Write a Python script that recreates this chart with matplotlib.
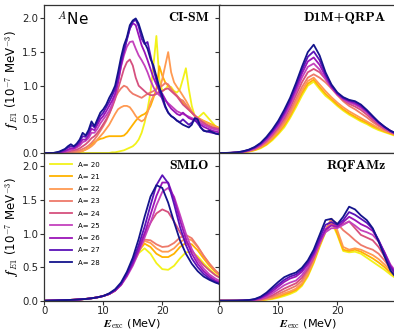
import numpy as np
import matplotlib
matplotlib.use("Agg")
import matplotlib.pyplot as plt

plt.rcParams["mathtext.fontset"] = "cm"
plt.rcParams["font.family"] = "DejaVu Sans"

# ---- data ----
mass_numbers = [20, 21, 22, 23, 24, 25, 26, 27, 28]
colors = ["#f2f21a", "#ffb300", "#ff9a52", "#ee7a6a", "#d6507e",
          "#c442bd", "#9b15b8", "#5b13b8", "#14148c"]

e_fine = np.arange(0, 30.01, 0.5)   # CI-SM grid
e_coarse = np.arange(0, 31, 1.0)    # grid for the other models

cism = {
    20: [0, 0, 0, 0, 0, 0, 0, 0, 0, 0,
         0, 0, 0, 0, 0, 0, 0, 0, 0, 0,
         0, 0, 0, 0.01, 0.01, 0.02, 0.03, 0.04, 0.06, 0.08,
         0.1, 0.14, 0.2, 0.3, 0.45, 0.65, 0.9, 1.3, 1.74, 1.1,
         0.92, 0.95, 1.0, 0.98, 0.92, 0.9, 0.95, 1.1, 1.26, 0.95,
         0.7, 0.55, 0.52, 0.56, 0.6, 0.55, 0.5, 0.45, 0.4, 0.37,
         0.35],
    21: [0, 0, 0, 0, 0, 0, 0, 0, 0, 0,
         0, 0.01, 0.02, 0.03, 0.05, 0.08, 0.12, 0.16, 0.19, 0.21,
         0.22, 0.24, 0.25, 0.25, 0.25, 0.25, 0.25, 0.26, 0.3, 0.36,
         0.42, 0.48, 0.53, 0.56, 0.58, 0.62, 0.7, 0.82, 0.95, 1.29,
         1.15, 1.05, 1.0, 0.95, 0.9, 0.85, 0.8, 0.75, 0.7, 0.65,
         0.6, 0.55, 0.52, 0.5, 0.48, 0.46, 0.44, 0.42, 0.4, 0.38,
         0.37],
    22: [0, 0, 0, 0, 0, 0, 0, 0, 0, 0,
         0.01, 0.01, 0.02, 0.03, 0.05, 0.07, 0.1, 0.14, 0.2, 0.25,
         0.3, 0.36, 0.42, 0.5, 0.58, 0.65, 0.68, 0.7, 0.7, 0.68,
         0.62, 0.55, 0.5, 0.47, 0.5, 0.6, 0.75, 0.85, 0.88, 0.92,
         1.1, 1.3, 1.5, 1.2, 1.05, 0.98, 0.92, 0.85, 0.78, 0.7,
         0.62, 0.56, 0.52, 0.5, 0.47, 0.45, 0.43, 0.41, 0.39, 0.37,
         0.36],
    23: [0, 0, 0, 0, 0, 0, 0, 0, 0.01, 0.01,
         0.02, 0.03, 0.04, 0.06, 0.08, 0.11, 0.15, 0.2, 0.26, 0.33,
         0.4, 0.48, 0.58, 0.7, 0.82, 0.9, 0.96, 1.0, 0.98, 0.92,
         0.88, 0.86, 0.84, 0.82, 0.85, 0.88, 0.9, 0.92, 0.95, 0.98,
         1.0, 1.04, 1.02, 0.95, 0.9, 0.85, 0.8, 0.78, 0.72, 0.66,
         0.6, 0.55, 0.52, 0.48, 0.45, 0.42, 0.4, 0.38, 0.36, 0.35,
         0.34],
    24: [0, 0, 0, 0, 0, 0, 0, 0.01, 0.02, 0.03,
         0.04, 0.05, 0.07, 0.1, 0.13, 0.17, 0.22, 0.25, 0.3, 0.36,
         0.43, 0.5, 0.58, 0.68, 0.8, 0.95, 1.1, 1.25, 1.35, 1.39,
         1.3, 1.12, 1.0, 0.96, 0.92, 0.88, 0.86, 0.86, 0.88, 0.9,
         0.92, 0.95, 0.96, 0.92, 0.88, 0.84, 0.78, 0.72, 0.68, 0.64,
         0.6, 0.56, 0.52, 0.48, 0.45, 0.42, 0.4, 0.38, 0.37, 0.36,
         0.35],
    25: [0, 0, 0, 0, 0, 0, 0.01, 0.02, 0.03, 0.05,
         0.06, 0.08, 0.11, 0.16, 0.18, 0.22, 0.3, 0.3, 0.36, 0.44,
         0.5, 0.56, 0.63, 0.72, 0.85, 1.05, 1.28, 1.45, 1.58, 1.65,
         1.66, 1.55, 1.45, 1.38, 1.3, 1.2, 1.08, 0.98, 0.9, 0.86,
         0.82, 0.78, 0.74, 0.7, 0.66, 0.62, 0.6, 0.58, 0.56, 0.54,
         0.52, 0.5, 0.48, 0.45, 0.42, 0.4, 0.38, 0.36, 0.35, 0.34,
         0.34],
    26: [0, 0, 0, 0, 0, 0.005, 0.015, 0.03, 0.05, 0.07,
         0.07, 0.1, 0.14, 0.2, 0.2, 0.26, 0.36, 0.34, 0.42, 0.5,
         0.55, 0.62, 0.7, 0.78, 0.88, 1.05, 1.3, 1.5, 1.7, 1.85,
         1.93, 1.9, 1.75, 1.6, 1.5, 1.38, 1.25, 1.12, 1.02, 0.95,
         0.88, 0.8, 0.72, 0.66, 0.62, 0.58, 0.56, 0.6, 0.56, 0.52,
         0.5, 0.48, 0.46, 0.42, 0.39, 0.37, 0.35, 0.33, 0.32, 0.31,
         0.3],
    27: [0, 0, 0, 0, 0.005, 0.01, 0.03, 0.05, 0.08, 0.1,
         0.09, 0.12, 0.17, 0.25, 0.24, 0.3, 0.42, 0.38, 0.46, 0.55,
         0.6, 0.68, 0.76, 0.85, 0.95, 1.12, 1.35, 1.52, 1.68, 1.85,
         1.95, 1.98, 1.88, 1.7, 1.62, 1.65, 1.45, 1.25, 1.08, 0.92,
         0.8, 0.68, 0.6, 0.55, 0.52, 0.48, 0.46, 0.5, 0.46, 0.42,
         0.45, 0.5, 0.44, 0.38, 0.34, 0.32, 0.31, 0.3, 0.29, 0.28,
         0.28],
    28: [0, 0, 0, 0, 0.01, 0.02, 0.04, 0.06, 0.1, 0.13,
         0.1, 0.14, 0.2, 0.3, 0.26, 0.34, 0.47, 0.4, 0.5, 0.6,
         0.65, 0.72, 0.82, 0.9, 1.0, 1.2, 1.42, 1.6, 1.72, 1.9,
         1.97, 2.0, 1.92, 1.78, 1.64, 1.55, 1.4, 1.3, 1.14, 0.98,
         0.85, 0.7, 0.6, 0.55, 0.52, 0.48, 0.45, 0.42, 0.4, 0.38,
         0.42, 0.52, 0.5, 0.38, 0.33, 0.32, 0.33, 0.31, 0.29, 0.28,
         0.27],
}

d1m_qrpa = {
    20: [0, 0, 0.001, 0.003, 0.01, 0.02, 0.04, 0.07, 0.12, 0.19, 0.28,
         0.38, 0.52, 0.68, 0.85, 1.0, 1.06, 0.95, 0.85, 0.78, 0.7,
         0.63, 0.57, 0.52, 0.47, 0.43, 0.38, 0.34, 0.31, 0.28, 0.25],
    21: [0, 0, 0.001, 0.004, 0.012, 0.024, 0.045, 0.08, 0.13, 0.21, 0.3,
         0.41, 0.55, 0.72, 0.89, 1.03, 1.09, 0.98, 0.88, 0.8, 0.72,
         0.65, 0.59, 0.54, 0.49, 0.45, 0.4, 0.36, 0.32, 0.29, 0.26],
    22: [0, 0, 0.002, 0.005, 0.014, 0.028, 0.05, 0.09, 0.145, 0.23, 0.32,
         0.44, 0.58, 0.75, 0.93, 1.07, 1.12, 1.02, 0.92, 0.83, 0.75,
         0.68, 0.62, 0.57, 0.52, 0.47, 0.42, 0.37, 0.33, 0.3, 0.27],
    23: [0, 0, 0.002, 0.005, 0.015, 0.03, 0.055, 0.1, 0.16, 0.25, 0.35,
         0.47, 0.62, 0.8, 0.98, 1.12, 1.17, 1.12, 1.05, 0.96, 0.86,
         0.77, 0.7, 0.65, 0.59, 0.53, 0.46, 0.4, 0.35, 0.31, 0.27],
    24: [0, 0, 0.002, 0.006, 0.017, 0.034, 0.06, 0.11, 0.18, 0.27, 0.38,
         0.51, 0.67, 0.86, 1.05, 1.2, 1.25, 1.2, 1.1, 0.98, 0.87,
         0.79, 0.73, 0.69, 0.64, 0.57, 0.49, 0.42, 0.36, 0.31, 0.27],
    25: [0, 0, 0.002, 0.007, 0.019, 0.038, 0.07, 0.12, 0.19, 0.29, 0.4,
         0.54, 0.71, 0.91, 1.12, 1.28, 1.33, 1.24, 1.1, 0.97, 0.87,
         0.8, 0.75, 0.72, 0.67, 0.6, 0.52, 0.44, 0.37, 0.32, 0.28],
    26: [0, 0, 0.003, 0.008, 0.021, 0.042, 0.076, 0.13, 0.21, 0.31, 0.43,
         0.58, 0.75, 0.96, 1.18, 1.36, 1.42, 1.31, 1.14, 0.99, 0.88,
         0.81, 0.77, 0.74, 0.69, 0.62, 0.53, 0.45, 0.38, 0.33, 0.28],
    27: [0, 0.001, 0.003, 0.009, 0.023, 0.046, 0.083, 0.14, 0.225, 0.33, 0.45,
         0.61, 0.79, 1.0, 1.23, 1.43, 1.51, 1.38, 1.17, 1.0, 0.89,
         0.82, 0.78, 0.76, 0.71, 0.63, 0.54, 0.46, 0.39, 0.33, 0.29],
    28: [0, 0.001, 0.004, 0.01, 0.025, 0.05, 0.09, 0.15, 0.24, 0.35, 0.48,
         0.64, 0.82, 1.04, 1.28, 1.5, 1.61, 1.45, 1.2, 1.02, 0.9,
         0.83, 0.79, 0.77, 0.72, 0.64, 0.55, 0.46, 0.39, 0.33, 0.29],
}

smlo = {
    20: [0, 0.002, 0.004, 0.007, 0.01, 0.014, 0.019, 0.026, 0.036, 0.05, 0.07,
         0.1, 0.15, 0.24, 0.38, 0.55, 0.71, 0.78, 0.7, 0.56, 0.47,
         0.46, 0.52, 0.63, 0.72, 0.73, 0.66, 0.56, 0.47, 0.39, 0.33],
    21: [0, 0.002, 0.004, 0.007, 0.01, 0.014, 0.019, 0.026, 0.036, 0.05, 0.07,
         0.1, 0.15, 0.24, 0.38, 0.56, 0.74, 0.85, 0.8, 0.7, 0.65,
         0.65, 0.7, 0.8, 0.86, 0.84, 0.75, 0.63, 0.52, 0.43, 0.36],
    22: [0, 0.002, 0.004, 0.007, 0.01, 0.014, 0.019, 0.026, 0.036, 0.05, 0.07,
         0.1, 0.15, 0.24, 0.38, 0.57, 0.76, 0.89, 0.86, 0.78, 0.73,
         0.73, 0.78, 0.87, 0.93, 0.9, 0.8, 0.67, 0.55, 0.45, 0.37],
    23: [0, 0.002, 0.004, 0.007, 0.01, 0.014, 0.019, 0.026, 0.036, 0.05, 0.07,
         0.1, 0.15, 0.24, 0.39, 0.58, 0.78, 0.91, 0.9, 0.84, 0.8,
         0.81, 0.86, 0.94, 0.98, 0.93, 0.81, 0.67, 0.55, 0.45, 0.37],
    24: [0, 0.002, 0.004, 0.007, 0.01, 0.014, 0.019, 0.026, 0.036, 0.05, 0.07,
         0.1, 0.15, 0.24, 0.39, 0.58, 0.8, 1.0, 1.16, 1.3, 1.36,
         1.32, 1.18, 1.02, 0.88, 0.75, 0.63, 0.53, 0.45, 0.38, 0.33],
    25: [0, 0.002, 0.004, 0.007, 0.01, 0.014, 0.019, 0.026, 0.036, 0.05, 0.07,
         0.1, 0.15, 0.23, 0.36, 0.52, 0.72, 0.94, 1.16, 1.42, 1.62,
         1.68, 1.55, 1.28, 1.0, 0.77, 0.6, 0.48, 0.39, 0.33, 0.28],
    26: [0, 0.002, 0.004, 0.007, 0.01, 0.014, 0.019, 0.026, 0.036, 0.05, 0.07,
         0.1, 0.15, 0.24, 0.38, 0.55, 0.76, 1.0, 1.28, 1.56, 1.76,
         1.76, 1.52, 1.2, 0.92, 0.7, 0.55, 0.44, 0.36, 0.3, 0.26],
    27: [0, 0.002, 0.004, 0.007, 0.01, 0.014, 0.019, 0.026, 0.036, 0.05, 0.07,
         0.1, 0.16, 0.25, 0.4, 0.59, 0.83, 1.1, 1.42, 1.72, 1.87,
         1.75, 1.44, 1.1, 0.83, 0.63, 0.5, 0.4, 0.33, 0.28, 0.24],
    28: [0, 0.002, 0.004, 0.007, 0.01, 0.014, 0.019, 0.026, 0.036, 0.05, 0.07,
         0.11, 0.17, 0.27, 0.43, 0.64, 0.92, 1.25, 1.55, 1.72, 1.68,
         1.46, 1.17, 0.9, 0.7, 0.55, 0.44, 0.36, 0.31, 0.27, 0.24],
}

rqfamz = {
    20: [0, 0, 0, 0, 0, 0, 0.002, 0.005, 0.015, 0.025, 0.045,
         0.07, 0.1, 0.14, 0.22, 0.36, 0.56, 0.8, 1.02, 1.18, 0.98,
         0.74, 0.72, 0.73, 0.7, 0.64, 0.58, 0.52, 0.46, 0.39, 0.33],
    21: [0, 0, 0, 0, 0, 0, 0.003, 0.008, 0.02, 0.035, 0.06,
         0.09, 0.12, 0.16, 0.24, 0.38, 0.58, 0.82, 1.04, 1.22, 1.0,
         0.76, 0.74, 0.76, 0.73, 0.68, 0.63, 0.57, 0.5, 0.42, 0.35],
    22: [0, 0, 0, 0, 0, 0.001, 0.004, 0.01, 0.025, 0.045, 0.075,
         0.11, 0.14, 0.18, 0.26, 0.4, 0.6, 0.83, 1.05, 1.22, 1.05,
         0.8, 0.76, 0.78, 0.76, 0.72, 0.68, 0.62, 0.54, 0.45, 0.37],
    23: [0, 0, 0, 0, 0, 0.002, 0.006, 0.015, 0.035, 0.06, 0.1,
         0.14, 0.18, 0.22, 0.3, 0.44, 0.62, 0.84, 1.06, 1.2, 1.15,
         1.05, 0.98, 0.9, 0.83, 0.79, 0.76, 0.7, 0.6, 0.48, 0.38],
    24: [0, 0, 0, 0, 0.001, 0.003, 0.008, 0.02, 0.045, 0.08, 0.13,
         0.18, 0.22, 0.26, 0.34, 0.47, 0.64, 0.85, 1.04, 1.14, 1.12,
         1.14, 1.18, 1.08, 0.98, 0.94, 0.9, 0.8, 0.66, 0.51, 0.4],
    25: [0, 0, 0, 0, 0.001, 0.004, 0.012, 0.03, 0.06, 0.11, 0.17,
         0.23, 0.27, 0.3, 0.38, 0.5, 0.66, 0.86, 1.02, 1.08, 1.08,
         1.13, 1.18, 1.12, 1.05, 1.02, 0.98, 0.88, 0.72, 0.54, 0.42],
    26: [0, 0, 0, 0.001, 0.002, 0.005, 0.016, 0.04, 0.08, 0.14, 0.21,
         0.28, 0.33, 0.36, 0.43, 0.54, 0.69, 0.89, 1.06, 1.12, 1.1,
         1.17, 1.25, 1.2, 1.14, 1.1, 1.04, 0.9, 0.72, 0.52, 0.4],
    27: [0, 0, 0, 0.001, 0.003, 0.007, 0.02, 0.05, 0.1, 0.17, 0.24,
         0.31, 0.36, 0.39, 0.46, 0.57, 0.72, 0.93, 1.13, 1.17, 1.13,
         1.2, 1.32, 1.28, 1.22, 1.16, 1.07, 0.9, 0.7, 0.5, 0.38],
    28: [0, 0, 0.001, 0.002, 0.005, 0.01, 0.025, 0.06, 0.12, 0.2, 0.28,
         0.35, 0.39, 0.42, 0.49, 0.6, 0.76, 0.98, 1.2, 1.22, 1.14,
         1.25, 1.4, 1.36, 1.27, 1.2, 1.08, 0.88, 0.66, 0.45, 0.34],
}

panels = [
    ("CI-SM", e_fine, cism),
    ("D1M+QRPA", e_coarse, d1m_qrpa),
    ("SMLO", e_coarse, smlo),
    ("RQFAMz", e_coarse, rqfamz),
]

# ---- figure ----
W, H = 394, 331
fig = plt.figure(figsize=(W / 100, H / 100), dpi=100)


def box(x0, y0, x1, y1):
    # pixel box (top-left origin) -> figure fraction
    return [x0 / W, 1 - y1 / H, (x1 - x0) / W, (y1 - y0) / H]


ax_tl = fig.add_axes(box(44.3, 5, 219.5, 153))
ax_tr = fig.add_axes(box(219.3, 5, 396.3, 153))
ax_bl = fig.add_axes(box(44.3, 153, 219.5, 300.7))
ax_br = fig.add_axes(box(219.3, 153, 396.3, 300.7))
axes = [ax_tl, ax_tr, ax_bl, ax_br]

for ax, (name, energy, data) in zip(axes, panels):
    for a, c in zip(mass_numbers, colors):
        ax.plot(energy, data[a], color=c, lw=1.3, label=f"A= {a}")
    ax.set_ylim(0, 2.2)
    ax.set_yticks([0, 0.5, 1.0, 1.5, 2.0])
    ax.set_xticks([0, 10, 20])
    ax.tick_params(labelsize=7.3, length=3, width=0.8, colors="#333333",
                   labelcolor="#222222", pad=1.2)
    ax.tick_params(axis="x", pad=0.6)
    for s in ax.spines.values():
        s.set_color("#333333")
        s.set_linewidth(0.9)
    ax.text(0.94, 0.955, name, transform=ax.transAxes, ha="right", va="top",
            family="cmb10", fontsize=10)

ax_tl.set_xlim(0, 29.7)
ax_bl.set_xlim(0, 29.7)
ax_tr.set_xlim(0, 30)
ax_br.set_xlim(0, 30)

for ax in (ax_tl, ax_tr):
    ax.tick_params(axis="x", length=0, labelbottom=False)
for ax in (ax_tr, ax_br):
    ax.tick_params(axis="y", labelleft=False)

ylab = r"$\mathbfit{f}_{E1}$ (10$^{-7}$ MeV$^{-3}$)"
for ax in (ax_tl, ax_bl):
    ax.set_ylabel(ylab, fontsize=8.5, labelpad=1)
for ax in (ax_bl, ax_br):
    ax.set_xlabel(r"$\mathbfit{E}_{\mathrm{exc}}$ (MeV)", fontsize=8.1)
    ax.xaxis.set_label_coords(0.5, -0.205)
    ax.xaxis.label.set_va("bottom")

ax_tl.text(0.07, 0.96, r"$^{A}$Ne", transform=ax_tl.transAxes, ha="left", va="top",
           fontsize=11)

ax_bl.legend(loc="upper left", bbox_to_anchor=(0.017, 0.961), borderaxespad=0,
             fontsize=5, frameon=False, handlelength=3.2,
             labelspacing=0.9, handletextpad=0.8)

fig.savefig("out.png", dpi=100)
